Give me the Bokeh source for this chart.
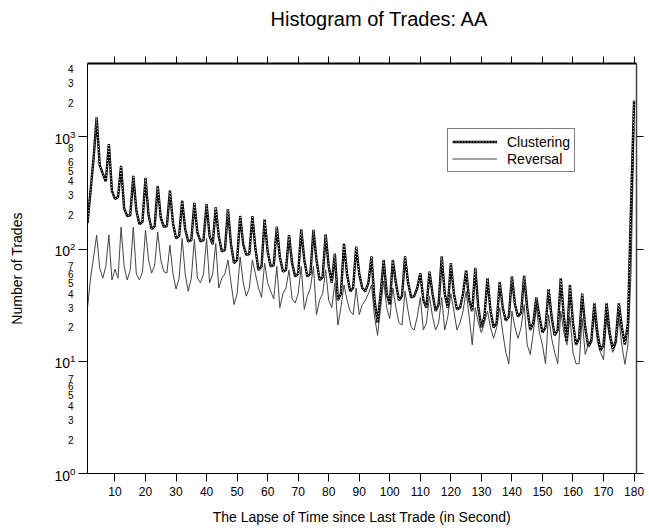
from bokeh.plotting import figure
from bokeh.models import (LogAxis, LinearAxis, FixedTicker, CustomJSTickFormatter,
                          Legend, LegendItem, Range1d)
from bokeh.embed import file_html
from bokeh.resources import INLINE

# Seconds elapsed since the previous trade (1 s bins)
seconds = list(range(1, 181))

# Number of trades that continued in the same direction
clustering = [
    170, 330, 650, 1490, 560, 470, 400, 860, 330, 280,
    290, 550, 230, 197, 200, 448, 220, 166, 175, 430,
    200, 150, 160, 365, 190, 158, 160, 333, 170, 125,
    130, 270, 150, 117, 120, 258, 140, 117, 120, 251,
    130, 110, 235, 130, 95, 98, 227, 110, 75, 80,
    197, 110, 89, 90, 197, 100, 65, 70, 184, 95,
    70, 72, 158, 85, 63, 65, 133, 75, 57, 60,
    150, 80, 57, 60, 148, 80, 53, 56, 135, 70,
    50, 91, 35, 40, 112, 60, 42, 45, 105, 60,
    45, 42, 50, 86, 35, 22, 40, 80, 40, 32,
    80, 50, 35, 38, 86, 50, 37, 38, 45, 61,
    35, 30, 63, 40, 28, 32, 86, 40, 30, 75,
    40, 29, 30, 40, 65, 35, 28, 68, 30, 20,
    25, 55, 28, 20, 22, 51, 30, 23, 25, 57,
    32, 25, 27, 58, 30, 19, 22, 37, 25, 18,
    20, 44, 25, 17, 19, 55, 25, 15, 48, 22,
    14, 16, 40, 20, 13.5, 15, 33, 18, 12.5, 14,
    33, 18, 13, 15, 33, 20, 14, 22, 230, 2100,
]

# Number of trades that reversed direction
reversal = [
    30, 55, 85, 133, 68, 55, 70, 134, 53, 66,
    55, 157, 70, 53, 65, 157, 60, 53, 62, 147,
    80, 61, 72, 142, 80, 63, 61, 108, 60, 44,
    55, 124, 60, 42, 55, 122, 55, 50, 60, 124,
    50, 60, 112, 45, 55, 60, 80, 50, 32, 40,
    85, 50, 38, 45, 80, 60, 45, 37, 75, 50,
    42, 36, 70, 30, 40, 45, 65, 36, 33, 40,
    70, 29, 38, 45, 70, 26, 35, 40, 65, 35,
    30, 50, 21, 30, 48, 35, 28, 26, 45, 26,
    32, 35, 40, 48, 25, 17, 30, 52, 30, 24,
    45, 30, 22, 21, 42, 28, 20, 19, 25, 37,
    19, 22, 38, 25, 19, 22, 37, 19, 25, 40,
    28, 19, 22, 28, 42, 25, 14, 30, 22, 18,
    22, 28, 20, 16, 20, 30, 18, 12, 9.5, 28,
    20, 16, 20, 32, 14, 11.5, 18, 30, 18, 14,
    9.5, 26, 16, 12, 9.5, 28, 18, 14, 25, 12,
    9.5, 9.5, 24, 11.5, 14, 16, 25, 15, 12, 10.3,
    24, 16, 12, 14, 24, 14, 9.4, 14, 60, 1200,
]

x_ticks = [10, 20, 30, 40, 50, 60, 70, 80, 90, 100,
           110, 120, 130, 140, 150, 160, 170, 180]
decades = [1, 10, 100, 1000]
y_sub_labels = [2, 3, 4, 5, 6, 7,
                20, 30, 40, 50, 60, 70,
                200, 300, 400, 500, 600, 800,
                2000, 3000, 4000]

FONT = "Liberation Sans"

p = figure(width=649, height=530, y_axis_type="log",
           x_range=Range1d(1, 180.8), y_range=Range1d(1, 4500),
           output_backend="svg", toolbar_location=None,
           min_border_left=87, min_border_right=13,
           min_border_top=63, min_border_bottom=57,
           title="Histogram of Trades: AA")
p.outline_line_color = None
p.grid.visible = False
p.background_fill_color = "white"
p.border_fill_color = "white"

p.title.text_font = FONT
p.title.text_font_size = "20px"
p.title.text_font_style = "normal"
p.title.text_color = "black"
p.title.align = "left"
p.title.offset = 183
p.title.vertical_align = "top"
p.title.standoff = 13

# bottom axis
xa = p.xaxis[0]
xa.ticker = FixedTicker(ticks=x_ticks)
xa.major_tick_out = 8
xa.major_tick_in = 0
xa.minor_tick_out = 0
xa.minor_tick_in = 0
xa.major_label_standoff = 5
xa.major_label_text_font = FONT
xa.major_label_text_font_size = "12px"
xa.major_label_text_color = "black"
xa.axis_line_color = "black"
xa.major_tick_line_color = "black"
xa.axis_label = "The Lapse of Time since Last Trade (in Second)"
xa.axis_label_text_font = FONT
xa.axis_label_text_font_size = "14px"
xa.axis_label_text_font_style = "normal"
xa.axis_label_text_color = "black"
xa.axis_label_standoff = 10

# inner left axis: decade tick marks plus the small sub-decade labels
ya = p.yaxis[0]
ya.ticker = FixedTicker(ticks=y_sub_labels, minor_ticks=decades)
ya.formatter = CustomJSTickFormatter(
    code="return String(Math.round(tick / Math.pow(10, Math.floor(Math.log10(tick) + 1e-9))));")
ya.major_tick_out = 0
ya.major_tick_in = 0
ya.major_tick_line_color = None
ya.minor_tick_out = 9
ya.minor_tick_in = 0
ya.minor_tick_line_color = "black"
ya.major_label_standoff = 5
ya.major_label_text_font = FONT
ya.major_label_text_font_size = "10px"
ya.major_label_text_color = "black"
ya.axis_line_color = "black"

# outer left axis: 10^n labels and the axis title
ya2 = LogAxis(ticker=FixedTicker(ticks=decades))
ya2.axis_line_color = None
ya2.major_tick_line_color = None
ya2.minor_tick_line_color = None
ya2.major_tick_out = 0
ya2.major_tick_in = 0
ya2.major_label_standoff = -11
ya2.major_label_text_font = FONT
ya2.major_label_text_font_size = "14px"
ya2.major_label_text_color = "black"
ya2.axis_label = "Number of Trades"
ya2.axis_label_text_font = FONT
ya2.axis_label_text_font_size = "14px"
ya2.axis_label_text_font_style = "normal"
ya2.axis_label_text_color = "black"
ya2.axis_label_standoff = 26
p.add_layout(ya2, "left")

# mirrored top and right axes carry tick marks only
blank = CustomJSTickFormatter(code="return '';")

top = LinearAxis(ticker=FixedTicker(ticks=x_ticks), formatter=blank)
top.major_tick_out = 7
top.major_tick_in = 0
top.minor_tick_out = 0
top.major_label_standoff = 0
top.axis_line_width = 2
top.axis_line_color = "black"
p.add_layout(top, "above")

# invisible spacer between the top ticks and the title
spacer = LinearAxis(ticker=FixedTicker(ticks=x_ticks), formatter=blank)
spacer.major_tick_out = 18
spacer.major_tick_in = 0
spacer.major_tick_line_color = None
spacer.minor_tick_out = 0
spacer.minor_tick_line_color = None
spacer.major_label_standoff = 0
spacer.axis_line_color = None
p.add_layout(spacer, "above")

right = LogAxis(ticker=FixedTicker(ticks=decades), formatter=blank)
right.major_tick_out = 7
right.major_tick_in = 0
right.minor_tick_out = 0
right.major_label_standoff = 0
right.axis_line_color = "#444444"
right.axis_line_width = 1.5
p.add_layout(right, "right")

# series
r_rev = p.line(seconds, reversal, line_color="#444444", line_width=1)
r_cl = p.line(seconds, clustering, line_color="black", line_width=2.4)
r_cl_dots = p.line(seconds, clustering, line_color="white", line_width=0.9,
                   line_dash="1 2")

legend = Legend(items=[LegendItem(label="Clustering", renderers=[r_cl, r_cl_dots]),
                       LegendItem(label="Reversal", renderers=[r_rev])],
                location=(360, 301))
legend.label_text_font = FONT
legend.label_text_font_size = "14px"
legend.label_text_color = "black"
legend.glyph_width = 45
legend.glyph_height = 17
legend.label_height = 17
legend.label_standoff = 10
legend.padding = 4
legend.spacing = 0
legend.margin = 0
legend.border_line_color = "black"
legend.border_line_width = 1
legend.background_fill_color = "white"
legend.background_fill_alpha = 1
p.add_layout(legend)

open("out.html", "w").write(file_html(p, INLINE))
